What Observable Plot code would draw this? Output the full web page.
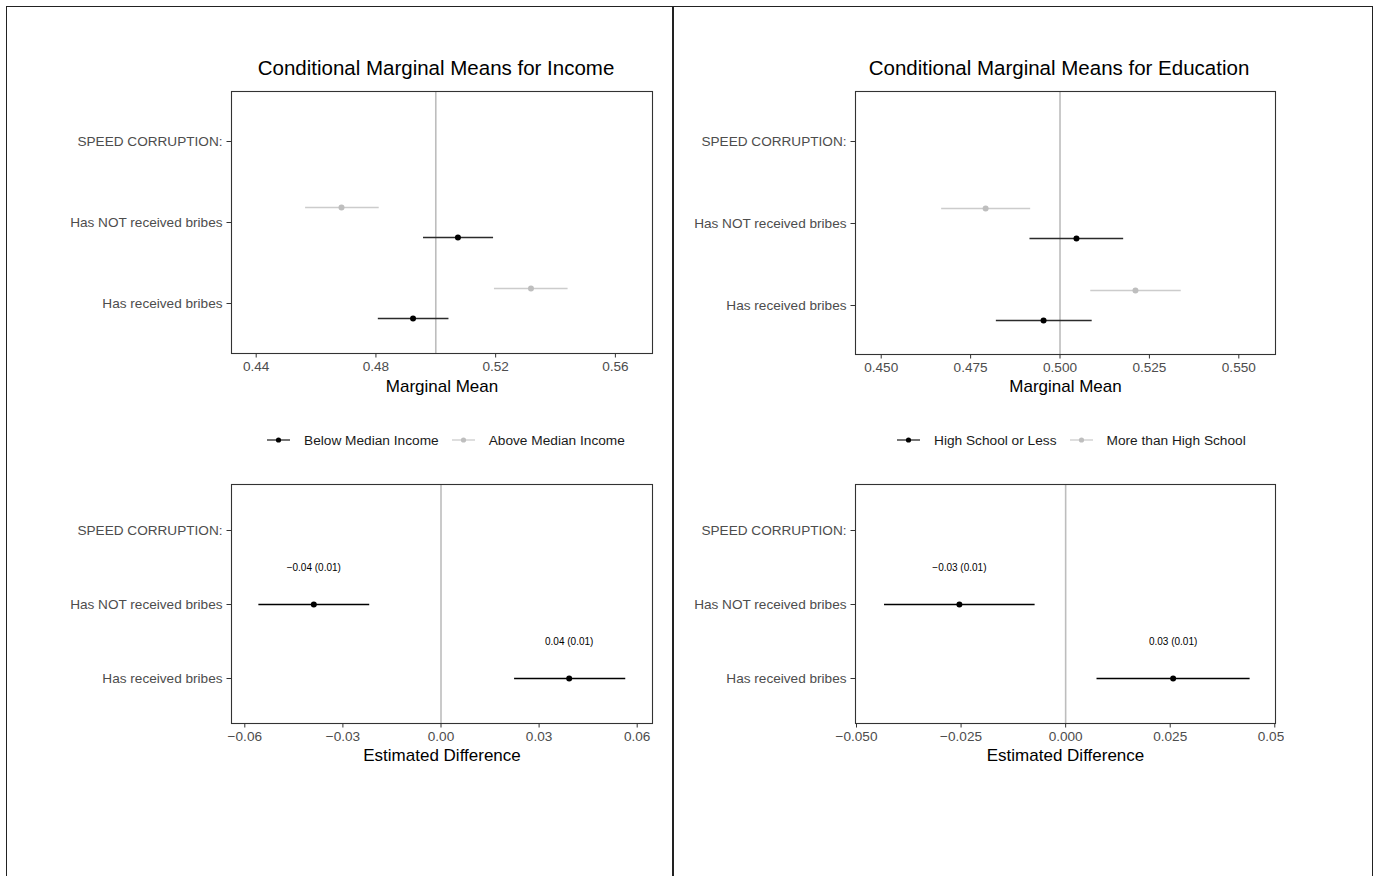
<!DOCTYPE html>
<html>
<head>
<meta charset="utf-8">
<script src="https://cdn.jsdelivr.net/npm/d3@7"></script>
<script src="https://cdn.jsdelivr.net/npm/@observablehq/plot@0.6"></script>
<style>
  body { margin: 0; background: #fff; font-family: "Liberation Sans", Arial, Helvetica, sans-serif; }
  #root { position: relative; width: 1377px; height: 876px; overflow: hidden; background: #fff; }
  .box { position: absolute; box-sizing: border-box; border: 1px solid #222; }
  .title { position: absolute; width: 600px; text-align: center; font-size: 20.5px; line-height: 24px; color: #000; white-space: nowrap; }
  .legend { position: absolute; height: 20px; display: flex; align-items: center; font-size: 13.7px; color: #1a1a1a; white-space: nowrap; }
  .legend svg { display: block; }
  .plotwrap { position: absolute; overflow: hidden; }
</style>
</head>
<body>
<div id="root">
  <div class="box" style="left:6px; top:6px; width:667px; height:900px;"></div>
  <div class="box" style="left:673px; top:6px; width:700px; height:900px;"></div>
</div>
<script>
// ---------- DATA ----------
const categories = ["SPEED CORRUPTION:", "Has NOT received bribes", "Has received bribes"];
const levels = ["Has NOT received bribes", "Has received bribes"];

const incomeGroups = ["Below Median Income", "Above Median Income"];
const incomeBelowEst = [0.5074, 0.4924];
const incomeBelowLo  = [0.4959, 0.4808];
const incomeBelowHi  = [0.5193, 0.5044];
const incomeAboveEst = [0.4685, 0.5318];
const incomeAboveLo  = [0.4565, 0.5196];
const incomeAboveHi  = [0.4811, 0.5442];

const eduGroups = ["High School or Less", "More than High School"];
const eduLowEst  = [0.5046, 0.4954];
const eduLowLo   = [0.4916, 0.4822];
const eduLowHi   = [0.5178, 0.5090];
const eduHighEst = [0.4792, 0.5211];
const eduHighLo  = [0.4669, 0.5086];
const eduHighHi  = [0.4918, 0.5339];

const incomeDiffEst = [-0.0389, 0.0392];
const incomeDiffLo  = [-0.0557, 0.0225];
const incomeDiffHi  = [-0.0218, 0.0565];
const incomeDiffLabels = ["\u22120.04 (0.01)", "0.04 (0.01)"];

const eduDiffEst = [-0.0254, 0.0257];
const eduDiffLo  = [-0.0433, 0.0075];
const eduDiffHi  = [-0.0073, 0.0441];
const eduDiffLabels = ["\u22120.03 (0.01)", "0.03 (0.01)"];

const incomeMMTicks = [0.44, 0.48, 0.52, 0.56];
const eduMMTicks = [0.450, 0.475, 0.500, 0.525, 0.550];
const incomeDiffTicks = [-0.06, -0.03, 0.00, 0.03, 0.06];
const eduDiffTicks = [-0.050, -0.025, 0.000, 0.025, 0.050];

const mmRef = [0.5];
const diffRef = [0];

const titles = ["Conditional Marginal Means for Income", "Conditional Marginal Means for Education"];
const mmAxisTitle = "Marginal Mean";
const diffAxisTitle = "Estimated Difference";

// ---------- BUILD ----------
const FONT = '"Liberation Sans", Arial, Helvetica, sans-serif';
const BLACK = "#000000", GRAY = "#bebebe", GRAYLINE = "#cccccc", BLACKLINE = "#2b2b2b";

function rows(est, lo, hi, labels) {
  return levels.map((level, i) => ({level, est: est[i], lo: lo[i], hi: hi[i], label: labels ? labels[i] : ""}));
}

const root = document.getElementById("root");

function addPlot(cfg) {
  const wrap = document.createElement("div");
  wrap.className = "plotwrap";
  wrap.style.left = cfg.left + "px";
  wrap.style.top = cfg.top + "px";
  wrap.style.width = cfg.width + "px";
  wrap.style.height = cfg.height + "px";
  const marks = [Plot.ruleX(cfg.ref, {stroke: "#bdbdbd", strokeWidth: 1.6})];
  for (const s of cfg.series) {
    marks.push(Plot.ruleY(s.rows, {y: "level", x1: "lo", x2: "hi", dy: s.dy, stroke: s.line, strokeWidth: 1.3}));
    marks.push(Plot.dot(s.rows, {x: "est", y: "level", dy: s.dy, r: 3, fill: s.color}));
  }
  if (cfg.annotate) {
    marks.push(Plot.text(cfg.annotate, {x: "est", y: "level", text: "label", dy: -37, fontSize: 10, fill: "#000"}));
  }
  marks.push(Plot.frame({stroke: "#333", strokeWidth: 1.1}));
  marks.push(Plot.axisX({ticks: cfg.ticks, tickFormat: cfg.fmt, tickSize: 4.5, tickPadding: 3, fontSize: 13.6, fill: "#4d4d4d", stroke: "#333", label: null}));
  marks.push(Plot.axisY({tickSize: 4.5, tickPadding: 4.5, fontSize: 13.6, fill: "#4d4d4d", stroke: "#333", label: null}));
  marks.push(Plot.text([cfg.label], {text: d => d, frameAnchor: "bottom", lineAnchor: "middle", dy: cfg.labelDy, fontSize: 17, fill: "#000"}));
  const svg = Plot.plot({
    width: cfg.width, height: cfg.height,
    marginLeft: cfg.marginLeft, marginRight: cfg.marginRight,
    marginTop: cfg.marginTop, marginBottom: cfg.marginBottom,
    x: {domain: cfg.domain, axis: null, label: null},
    y: {type: "point", domain: categories, padding: 0.6, axis: null, label: null},
    style: {fontFamily: FONT, background: "transparent", overflow: "visible", maxWidth: "none"},
    marks
  });
  wrap.appendChild(svg);
  root.appendChild(wrap);
}

function addTitle(text, cx, cy) {
  const d = document.createElement("div");
  d.className = "title";
  d.textContent = text;
  d.style.left = (cx - 300) + "px";
  d.style.top = (cy - 12) + "px";
  root.appendChild(d);
}

function swatch(dot, line) {
  const ns = "http://www.w3.org/2000/svg";
  const s = document.createElementNS(ns, "svg");
  s.setAttribute("width", 23); s.setAttribute("height", 10);
  const l = document.createElementNS(ns, "line");
  l.setAttribute("x1", 0); l.setAttribute("x2", 23); l.setAttribute("y1", 5); l.setAttribute("y2", 5);
  l.setAttribute("stroke", line); l.setAttribute("stroke-width", 1.3);
  const c = document.createElementNS(ns, "circle");
  c.setAttribute("cx", 11.5); c.setAttribute("cy", 5); c.setAttribute("r", 2.6); c.setAttribute("fill", dot);
  s.appendChild(l); s.appendChild(c);
  return s;
}

function addLegend(groups, left, cy) {
  const d = document.createElement("div");
  d.className = "legend";
  d.style.left = left + "px";
  d.style.top = (cy - 10) + "px";
  const cols = [[BLACK, BLACKLINE], [GRAY, GRAYLINE]];
  groups.forEach((g, i) => {
    const sw = swatch(cols[i][0], cols[i][1]);
    sw.style.marginRight = "14px";
    if (i > 0) sw.style.marginLeft = "13px";
    d.appendChild(sw);
    const t = document.createElement("span");
    t.textContent = g;
    d.appendChild(t);
  });
  root.appendChild(d);
}

const f2 = d3.format(".2f"), f3 = d3.format(".3f");

// Top-left: income marginal means
addPlot({
  left: 10, top: 80, width: 655, height: 320,
  marginLeft: 221, marginRight: 13, marginTop: 11, marginBottom: 47,
  domain: [0.43175, 0.5724], ticks: incomeMMTicks, fmt: f2, ref: mmRef,
  series: [
    {rows: rows(incomeAboveEst, incomeAboveLo, incomeAboveHi), color: GRAY, line: GRAYLINE, dy: -15},
    {rows: rows(incomeBelowEst, incomeBelowLo, incomeBelowHi), color: BLACK, line: BLACKLINE, dy: 15}
  ],
  label: mmAxisTitle, labelDy: 33
});

// Top-right: education marginal means
addPlot({
  left: 680, top: 80, width: 604, height: 320,
  marginLeft: 175, marginRight: 9, marginTop: 11, marginBottom: 46,
  domain: [0.44281, 0.56026], ticks: eduMMTicks, fmt: f3, ref: mmRef,
  series: [
    {rows: rows(eduHighEst, eduHighLo, eduHighHi), color: GRAY, line: GRAYLINE, dy: -15},
    {rows: rows(eduLowEst, eduLowLo, eduLowHi), color: BLACK, line: BLACKLINE, dy: 15}
  ],
  label: mmAxisTitle, labelDy: 32
});

// Bottom-left: income differences
addPlot({
  left: 10, top: 474, width: 655, height: 296,
  marginLeft: 221, marginRight: 13, marginTop: 10, marginBottom: 47,
  domain: [-0.06407, 0.06468], ticks: incomeDiffTicks, fmt: f2, ref: diffRef,
  series: [{rows: rows(incomeDiffEst, incomeDiffLo, incomeDiffHi), color: BLACK, line: "#000", dy: 0}],
  annotate: rows(incomeDiffEst, incomeDiffLo, incomeDiffHi, incomeDiffLabels),
  label: diffAxisTitle, labelDy: 32
});

// Bottom-right: education differences
addPlot({
  left: 680, top: 474, width: 604, height: 296,
  marginLeft: 175, marginRight: 9, marginTop: 10, marginBottom: 47,
  domain: [-0.05024, 0.05017], ticks: eduDiffTicks, fmt: f3, ref: diffRef,
  series: [{rows: rows(eduDiffEst, eduDiffLo, eduDiffHi), color: BLACK, line: "#000", dy: 0}],
  annotate: rows(eduDiffEst, eduDiffLo, eduDiffHi, eduDiffLabels),
  label: diffAxisTitle, labelDy: 32
});

addTitle(titles[0], 436, 68);
addTitle(titles[1], 1059, 68);
addLegend(incomeGroups, 267, 440);
addLegend(eduGroups, 897, 440);
</script>
</body>
</html>
